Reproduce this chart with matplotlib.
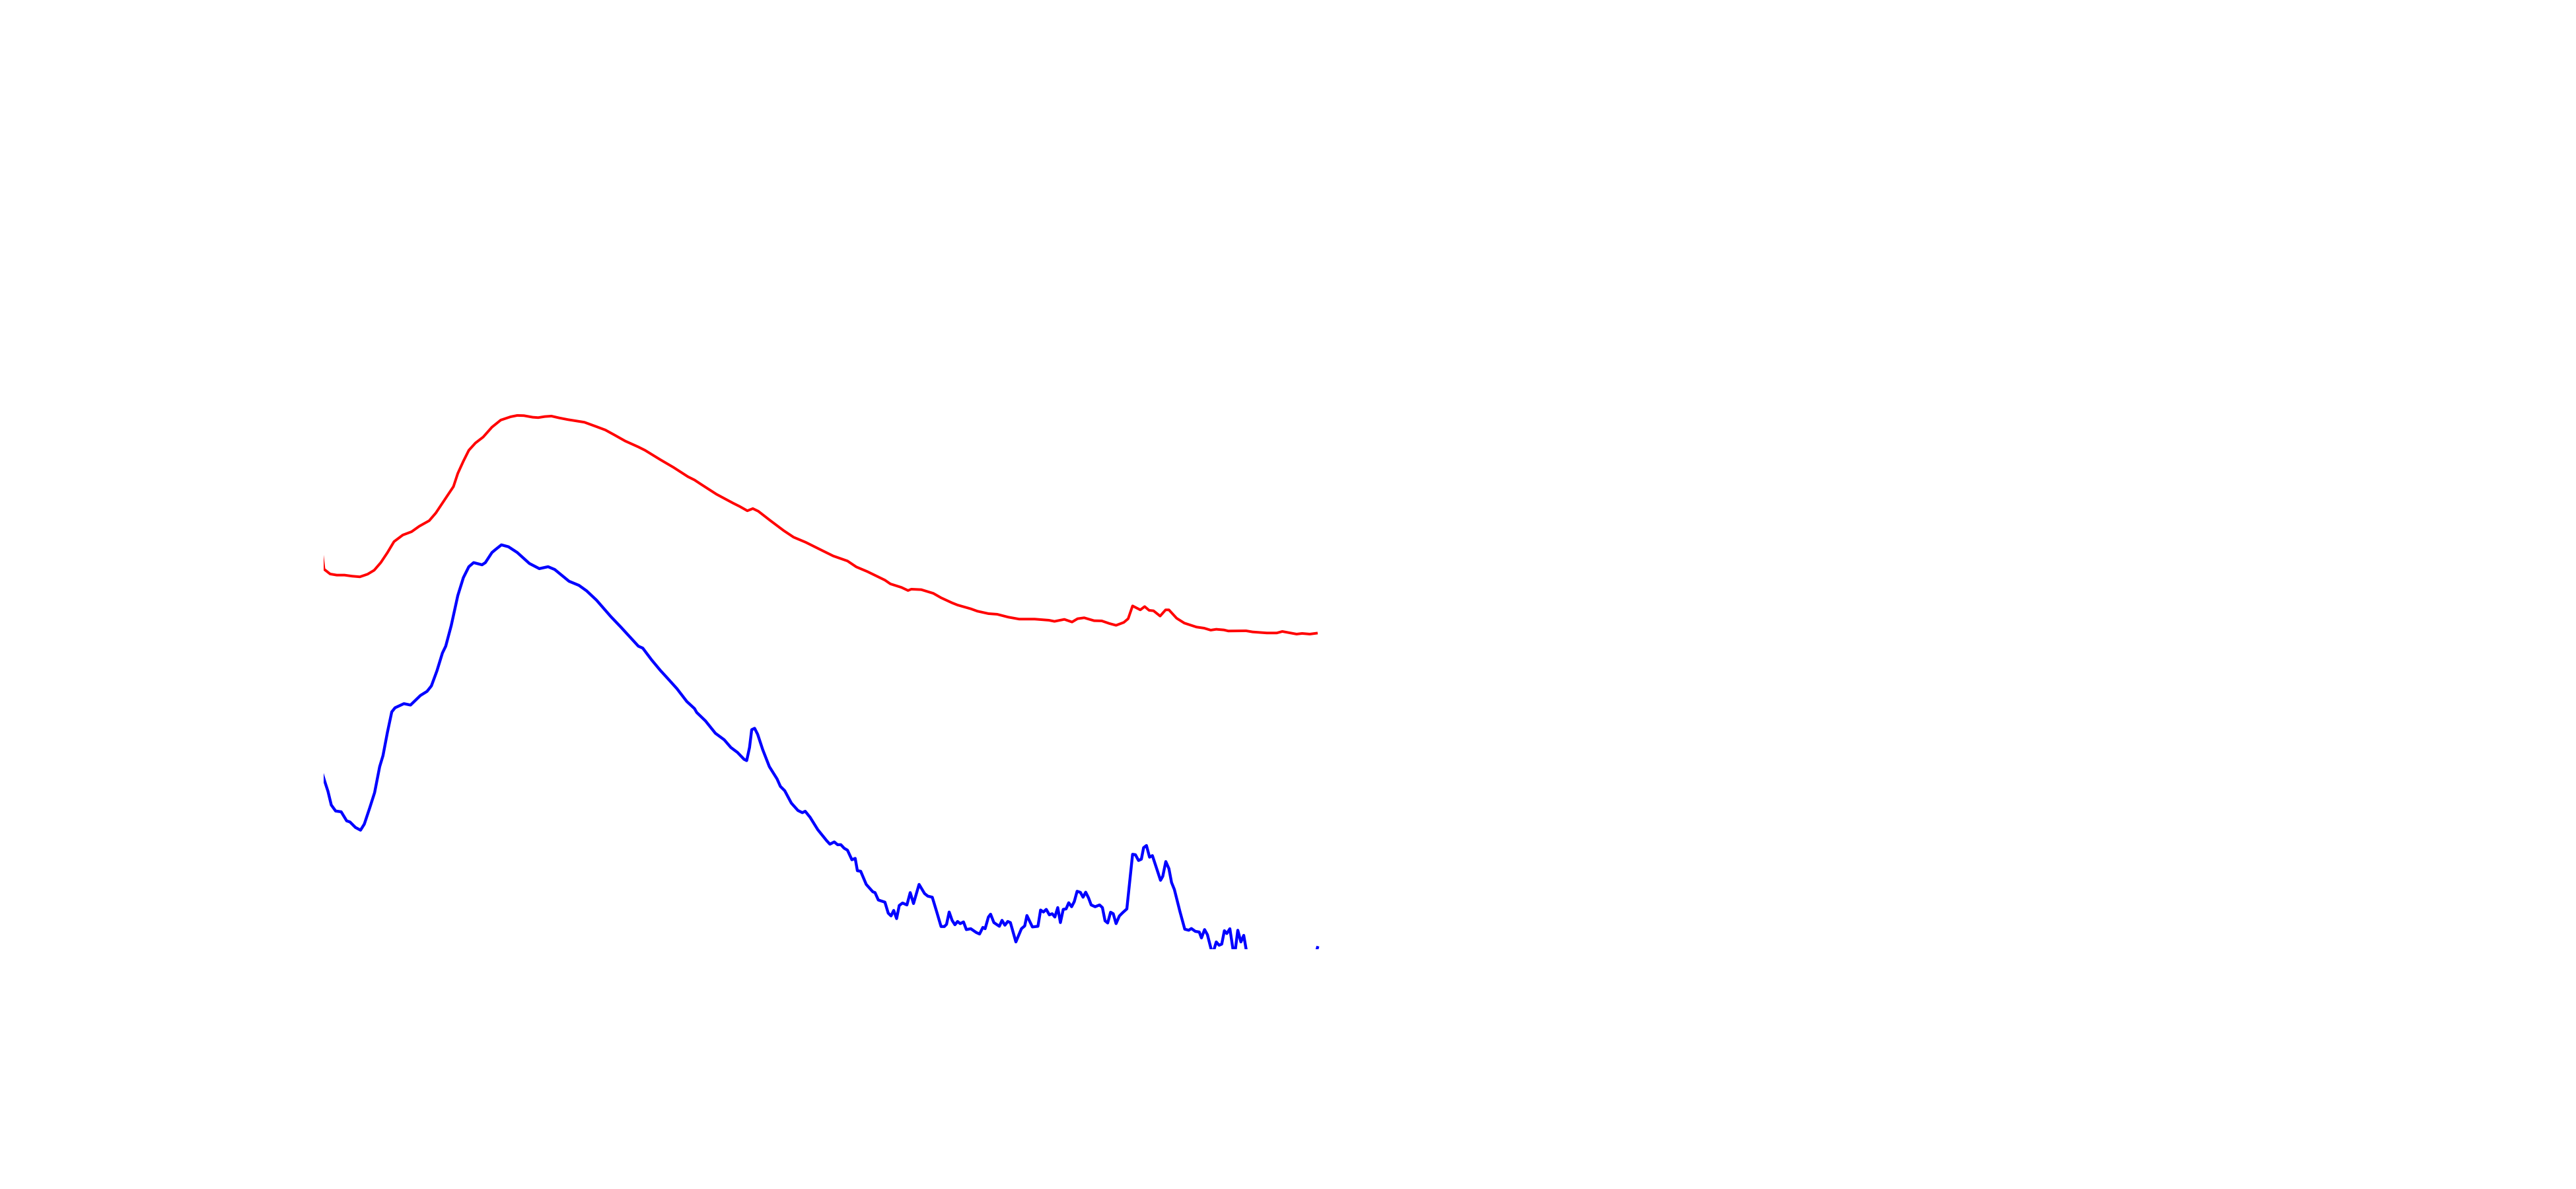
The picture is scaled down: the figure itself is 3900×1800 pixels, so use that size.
import matplotlib
matplotlib.use("Agg")
import matplotlib.pyplot as plt

# red series (upper curve)
red_x = [
    -3, 0.7, 10, 20, 31.7, 43.3, 55, 66.7, 76.7, 86.7,
    96.7, 106.7, 120, 133.3, 145, 160, 170, 180, 190, 196.7,
    203.3, 211.7, 220, 230, 241.7, 255, 268.3, 283.3, 293.3, 303.3,
    316.7, 325, 335, 345, 356.7, 370, 395, 413.3, 426.7, 440,
    456.7, 476.7, 486.7, 510, 530, 551.7, 561.7, 571.7, 595, 620,
    630, 641.7, 650, 658.3, 676.7, 696.7, 711.7, 730, 756.7, 771.7,
    793.3, 806.7, 823.3, 850, 858.3, 875, 885, 890, 905, 923.3,
    935, 951.7, 960, 980, 990, 1006.7, 1020, 1036.7, 1053.3, 1076.7,
    1098.3, 1106.7, 1121.7, 1133.3, 1141.7, 1151.7, 1166.7, 1178.3, 1190, 1200,
    1211.7, 1218.3, 1225, 1236.7, 1243.3, 1250, 1256.7, 1266.7, 1275, 1280,
    1291.7, 1303.3, 1321.7, 1333.3, 1343.3, 1351.7, 1363.3, 1370, 1396.7, 1406.7,
    1428.3, 1443.3, 1451.7, 1473.3, 1481.7, 1493.3, 1503.3,
]
red_y = [
    607.5, 575.8, 568.5, 566.8, 566.8, 565.2, 564.2, 568.2, 574.2, 585.8,
    600.8, 617.5, 627.5, 632.5, 640.8, 649.2, 660.8, 675.8, 690.8, 700.8,
    720.8, 739.2, 755.8, 766.8, 775.8, 790.8, 801.5, 806.5, 808.5, 808.2,
    805.8, 805.2, 806.8, 807.5, 804.8, 802.2, 798.2, 791.5, 786.5, 779.2,
    769.8, 760.8, 755.8, 741.5, 729.8, 715.8, 710.8, 704.2, 689.2, 675.8,
    670.8, 664.2, 667.5, 663.5, 649.2, 634.2, 624.2, 616.5, 603.2, 595.8,
    588.2, 579.2, 572.2, 559.2, 553.5, 548.2, 543.5, 545.5, 544.8, 539.2,
    532.5, 524.8, 521.5, 515.8, 512.2, 508.5, 507.5, 503.2, 500.2, 500.2,
    498.5, 496.8, 499.8, 495.8, 500.8, 502.2, 497.8, 497.5, 493.5, 490.8,
    495.2, 500.8, 520.2, 514.2, 519.2, 513.5, 512.8, 504.8, 514.2, 514.2,
    501.5, 494.2, 488.2, 486.5, 483.5, 484.8, 483.8, 482.2, 482.5, 480.8,
    479.2, 479.2, 481.5, 477.5, 478.5, 477.5, 478.8,
]

# blue series (lower, noisier curve)
blue_x = [
    -3, 3.3, 6.7, 11.7, 18.3, 26.7, 35, 40, 48.3, 56,
    61.7, 70, 77.3, 85, 90, 96.7, 103.3, 108.3, 121.7, 131.7,
    146.7, 156.7, 163.3, 171.7, 180, 185, 193.3, 198.3, 203.3, 211.7,
    220, 227.3, 240, 245, 255, 260, 269.3, 280, 293.3, 311.7,
    326.7, 340, 350, 371.7, 386.7, 398.3, 413.3, 435, 450, 463.3,
    476.7, 483.3, 496.7, 510, 520, 535, 550, 561.7, 565, 578.3,
    593.3, 606.7, 616.7, 626.7, 636.7, 640.7, 645, 648.3, 652.7, 657.3,
    665, 675, 686.7, 691.7, 698.3, 708.3, 718.3, 725, 729.3, 736.7,
    748.3, 761.7, 766.7, 773.3, 778.3, 783.3, 788.3, 793.3, 800, 805,
    808.3, 813.3, 821.7, 831.7, 835, 840, 850, 855, 859.3, 863.3,
    867.7, 871.7, 876.7, 883.3, 888.3, 893.3, 901.7, 910, 915, 921.7,
    928.3, 935, 940, 943.3, 947.3, 951.7, 956, 960, 964, 969,
    973.3, 980, 988.3, 993.3, 998.3, 1001.7, 1006.7, 1010, 1015, 1023.3,
    1027.3, 1031.7, 1036, 1040, 1048.3, 1056.7, 1061.7, 1065, 1073.3, 1081.7,
    1085.7, 1090, 1094.3, 1099, 1103.3, 1107.3, 1111.7, 1115.7, 1120, 1124.3,
    1128.3, 1132.7, 1136.7, 1141, 1146, 1150, 1154, 1158.3, 1162.3, 1168.3,
    1175, 1179.3, 1183.3, 1187.3, 1191.7, 1195.7, 1200, 1205, 1210, 1216.3,
    1225, 1229.3, 1234, 1238.3, 1241.7, 1246, 1250.7, 1255, 1267.3, 1270.7,
    1275.3, 1280, 1284, 1288.3, 1296.7, 1304, 1310, 1314, 1320, 1326,
    1329.3, 1334, 1338.3, 1346, 1351.7, 1356, 1360, 1364, 1367.7, 1372.3,
    1379, 1384.3, 1389, 1393.3, 1400, 1410, 1425, 1440, 1455, 1470,
    1485, 1497, 1505,
]
blue_y = [
    270, 249.9, 239.5, 218.8, 209.7, 208.5, 194.8, 193.1, 184.8, 180.7,
    189.8, 214.7, 237.5, 276.9, 293.5, 328.7, 359.8, 366, 372.2, 370.1,
    384.6, 390.8, 399.1, 421.9, 448.9, 459.2, 490.3, 513.1, 535.9, 562.9,
    579.5, 585.7, 582.4, 585.7, 601, 605.2, 612.6, 609.7, 601, 584.4,
    576.6, 579.5, 575.3, 557.5, 551.3, 543, 528.9, 504, 488.3, 473.8,
    459.2, 456.3, 438.5, 422.5, 411.6, 395, 375.5, 364.7, 358.9, 346.1,
    327.4, 317.5, 305.9, 298.4, 288, 286, 305.9, 332.8, 334.9, 325.8,
    302.5, 276.9, 258.2, 247, 240.4, 221.7, 210.5, 207.2, 209.3, 200.2,
    181.5, 164.9, 159.5, 162.9, 158.7, 158.7, 153.3, 150.4, 135.9, 138,
    119.3, 118.5, 98.6, 87.4, 86.2, 75, 71.7, 55.1, 50.9, 59.2,
    46.8, 66.7, 70.4, 67.5, 86.2, 69.6, 98.6, 84.8, 80.8, 79.2,
    57.5, 34.8, 34.8, 38.2, 56.8, 44.2, 37.5, 42.5, 39.2, 41.8,
    30.2, 31.5, 25.8, 23.5, 33.5, 31.5, 49.2, 53.5, 40.8, 35.2,
    44.2, 36.8, 42.5, 40.8, 11.5, 31.5, 35.8, 51.5, 34.2, 35.2,
    59.8, 56.8, 60.8, 52.5, 54.2, 49.2, 63.5, 40.8, 60.8, 61.5,
    70.8, 64.8, 72.5, 88.2, 86.5, 79.2, 86.8, 78.2, 67.5, 64.8,
    67.5, 63.5, 43.5, 40.2, 56.5, 54.2, 39.2, 50.8, 55.8, 61.5,
    144.2, 143.5, 134.8, 136.8, 154.2, 157.5, 139.8, 142.2, 104.8, 110.8,
    133.2, 122.5, 101.5, 90.8, 57.5, 30.8, 29.2, 31.8, 27.5, 26.5,
    17.5, 30.2, 22.5, -7.5, 11.5, 6.5, 8.2, 28.5, 24.2, 31.5,
    -12.5, 29.2, 11.5, 21.5, -17.5, -24.5, -12.5, -32.5, -17.5, -30.5,
    -14.5, -27.5, 3,
]

fig = plt.figure(figsize=(13, 6), dpi=300, facecolor="white")
ax = fig.add_axes([0.1256, 0.2014, 0.3897, 0.6786])
ax.plot(red_x, red_y, color="#ff0000", linewidth=0.95)
ax.plot(blue_x, blue_y, color="#0000ff", linewidth=1.05)
ax.set_xlim(0, 1520)
ax.set_ylim(0, 1221.4)
ax.axis("off")

fig.savefig("out.png", dpi=300, facecolor="white")
